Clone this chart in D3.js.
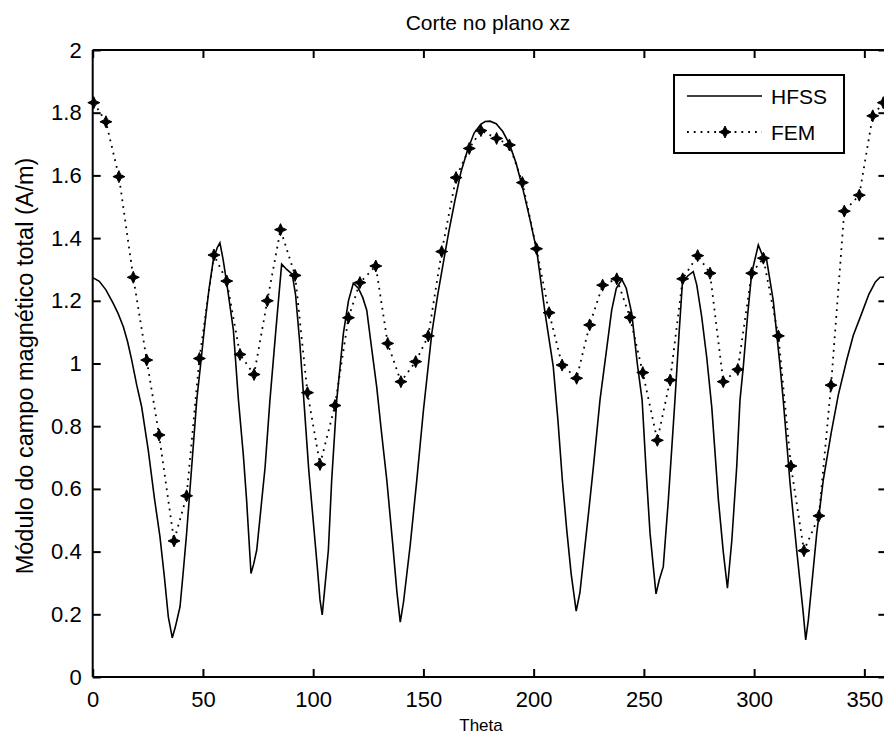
<!DOCTYPE html>
<html>
<head>
<meta charset="utf-8">
<script src="https://cdn.jsdelivr.net/npm/d3@7"></script>
<style>
  html, body { margin: 0; padding: 0; background: #fff; }
  svg { display: block; }
  text { font-family: "Liberation Sans", Arial, Helvetica, sans-serif; fill: #000; }
</style>
</head>
<body>
<svg id="chart" width="884" height="736"></svg>
<script>
// ---- data ----
const hfssTheta = [0,3,6,9.3,11.5,13.9,15.8,17.7,20,22.2,25.2,28,30.5,32.5,34.3,36.1,37.5,39.6,41,42.6,45,47.2,49,50.9,52.8,54.7,56.5,57.7,59.2,60.8,63.8,66.1,68.3,69.8,71.8,73,74.4,76.2,78.2,80.4,83,85.7,88,90.5,92,94,96,98,100,102,103.1,104.1,105.5,106.9,108.4,110.7,113.7,116,118.2,120.5,122.5,124.3,126.5,128.8,131,133.4,136,138,139.5,141,144,147,150,153.8,156.5,159,161.5,164.3,167,170,173,176,178,180.2,183,186,189,192,195,198,201.4,205.2,208.9,211,213,215,217,219.3,221,223,225,227.1,230.1,233,235.4,237.5,240,242,244.5,247,249.2,251,252.8,255,255.5,257,258.8,261.1,264.1,266,267.5,270,272.4,274,276.2,278.5,280.8,283.8,286,287.9,289.9,292.1,293.6,295.1,297,298.9,301.9,303.5,305.7,308.7,311.8,313.2,316.3,319.3,322.3,323.4,324.6,328.4,331.4,335,338.2,342,345,348.8,352,355,357.1,360];
const hfssValue = [1.274,1.262,1.235,1.192,1.16,1.117,1.07,1.011,0.93,0.862,0.724,0.57,0.448,0.32,0.192,0.125,0.16,0.224,0.33,0.458,0.68,0.884,1.0,1.128,1.24,1.33,1.37,1.385,1.33,1.256,1.107,0.884,0.71,0.565,0.33,0.36,0.405,0.53,0.67,0.884,1.10,1.317,1.30,1.285,1.22,1.06,0.86,0.66,0.50,0.34,0.246,0.198,0.30,0.405,0.628,0.884,1.096,1.20,1.256,1.24,1.21,1.17,1.05,0.926,0.78,0.628,0.43,0.27,0.175,0.24,0.42,0.628,0.85,1.096,1.22,1.32,1.42,1.52,1.61,1.68,1.735,1.763,1.772,1.773,1.765,1.74,1.70,1.64,1.56,1.47,1.36,1.16,0.99,0.82,0.63,0.47,0.33,0.21,0.27,0.40,0.53,0.67,0.884,1.04,1.17,1.24,1.268,1.24,1.16,1.0,0.884,0.66,0.458,0.30,0.265,0.31,0.352,0.565,0.884,1.10,1.26,1.28,1.293,1.25,1.15,1.02,0.86,0.565,0.40,0.283,0.437,0.67,0.884,0.99,1.15,1.288,1.378,1.35,1.33,1.20,0.99,0.884,0.618,0.405,0.203,0.118,0.182,0.458,0.63,0.78,0.90,1.011,1.09,1.16,1.22,1.26,1.275,1.275];

const femTheta = [0.5,6,11.9,18.4,24.5,30.1,36.9,42.6,48.4,55,60.8,66.8,73.2,79.2,85.2,91.8,97.4,103.1,109.9,116,121.2,128.4,133.8,139.8,146.5,152.2,158.3,164.8,170.8,176.1,183.2,189,194.9,201.3,207,212.9,219.5,225.4,231.3,237.7,243.7,249.5,256.1,261.9,267.6,274.4,280,286,292.6,298.9,304.2,311,316.7,322.6,329.4,334.9,340.9,347.7,353.8,358.6];
const femValue = [1.832,1.771,1.596,1.275,1.011,0.772,0.434,0.578,1.016,1.346,1.263,1.029,0.965,1.2,1.427,1.281,0.907,0.678,0.866,1.146,1.258,1.311,1.064,0.942,1.006,1.088,1.357,1.593,1.686,1.743,1.718,1.697,1.577,1.366,1.162,0.995,0.953,1.123,1.25,1.27,1.147,0.971,0.755,0.947,1.27,1.344,1.288,0.942,0.981,1.288,1.336,1.088,0.673,0.403,0.514,0.931,1.486,1.537,1.79,1.832];

const xTicks = [0,50,100,150,200,250,300,350];
const yTicks = [0,0.2,0.4,0.6,0.8,1,1.2,1.4,1.6,1.8,2];
const seriesNames = ["HFSS", "FEM"];
const titleText = "Corte no plano xz";
const xLabel = "Theta";
const yLabel = "Módulo do campo magnético total (A/m)";

// ---- layout ----
const mLeft = 92.7, mRight = 886.4, mTop = 50, mBottom = 677;
const svg = d3.select("#chart");
const x = d3.scaleLinear().domain([0, 360]).range([mLeft, mRight]);
const y = d3.scaleLinear().domain([0, 2]).range([mBottom, mTop]);

const tickLen = 8;
const fmt = d => String(+d.toFixed(1));

// axes (MATLAB-style box with inward ticks)
const gx = svg.append("g").attr("transform", `translate(0,${mBottom})`)
  .call(d3.axisBottom(x).tickValues(xTicks).tickSize(-tickLen).tickPadding(14).tickFormat(fmt));
const gxTop = svg.append("g").attr("transform", `translate(0,${mTop})`)
  .call(d3.axisTop(x).tickValues(xTicks).tickSize(-tickLen).tickFormat(""));
const gy = svg.append("g").attr("transform", `translate(${mLeft},0)`)
  .call(d3.axisLeft(y).tickValues(yTicks).tickSize(-tickLen).tickPadding(11).tickFormat(fmt));
const gyR = svg.append("g").attr("transform", `translate(${mRight},0)`)
  .call(d3.axisRight(y).tickValues(yTicks).tickSize(-tickLen).tickFormat(""));

[gx, gxTop, gy, gyR].forEach(g => {
  g.select(".domain").attr("stroke", "#000").attr("stroke-width", 2);
  g.selectAll(".tick line").attr("stroke", "#000").attr("stroke-width", 2);
  g.selectAll("text").style("font-size", "22px").attr("fill", "#000")
    .style("font-family", "'Liberation Sans', Arial, sans-serif");
});
gx.select(".domain").attr("d", `M${mLeft},0H${mRight}`);
gxTop.select(".domain").attr("d", `M${mLeft},0H${mRight}`);
gy.select(".domain").attr("d", `M0,${mTop}V${mBottom}`);
gyR.select(".domain").attr("d", `M0,${mTop}V${mBottom}`);

// clip path
svg.append("clipPath").attr("id", "plotclip").append("rect")
  .attr("x", mLeft - 8).attr("y", mTop - 8).attr("width", mRight - mLeft + 16).attr("height", mBottom - mTop + 16);

const plot = svg.append("g").attr("clip-path", "url(#plotclip)");

const hfssData = hfssTheta.map((t, i) => [t, hfssValue[i]]);
const femData = femTheta.map((t, i) => [t, femValue[i]]);
const line = d3.line().x(d => x(d[0])).y(d => y(d[1]));

plot.append("path").datum(hfssData).attr("d", line)
  .attr("fill", "none").attr("stroke", "#000").attr("stroke-width", 1.6)
  .attr("stroke-linejoin", "miter");

plot.append("path").datum(femData).attr("d", line)
  .attr("fill", "none").attr("stroke", "#000").attr("stroke-width", 1.8)
  .attr("stroke-dasharray", "1.8,5");

const starPath = "M0,-6L1.9,-1.9L6,0L1.9,1.9L0,6L-1.9,1.9L-6,0L-1.9,-1.9Z";
plot.selectAll(".fem").data(femData).enter().append("path")
  .attr("class", "fem")
  .attr("transform", d => `translate(${x(d[0])},${y(d[1])})`)
  .attr("d", starPath).attr("fill", "#000").attr("stroke", "#000").attr("stroke-width", 1);

// title and labels
svg.append("text").attr("x", 488).attr("y", 30).attr("text-anchor", "middle")
  .style("font-size", "21px").text(titleText);
svg.append("text").attr("x", 481).attr("y", 731).attr("text-anchor", "middle")
  .style("font-size", "17px").text(xLabel);
svg.append("text").attr("transform", `translate(33,366) rotate(-90)`).attr("text-anchor", "middle")
  .style("font-size", "23.5px").text(yLabel);

// legend
const lg = svg.append("g");
lg.append("rect").attr("x", 674).attr("y", 75).attr("width", 170).attr("height", 78)
  .attr("fill", "#fff").attr("stroke", "#000").attr("stroke-width", 2);
lg.append("line").attr("x1", 687).attr("x2", 762).attr("y1", 96).attr("y2", 96)
  .attr("stroke", "#000").attr("stroke-width", 1.6);
lg.append("line").attr("x1", 687).attr("x2", 762).attr("y1", 132).attr("y2", 132)
  .attr("stroke", "#000").attr("stroke-width", 1.8).attr("stroke-dasharray", "1.8,5");
lg.append("path").attr("transform", "translate(725,132)").attr("d", starPath)
  .attr("fill", "#000").attr("stroke", "#000").attr("stroke-width", 1);
lg.selectAll(".lt").data(seriesNames).enter().append("text")
  .attr("x", 771).attr("y", (d, i) => 104 + i * 36)
  .style("font-size", "21px").text(d => d);
</script>
</body>
</html>
